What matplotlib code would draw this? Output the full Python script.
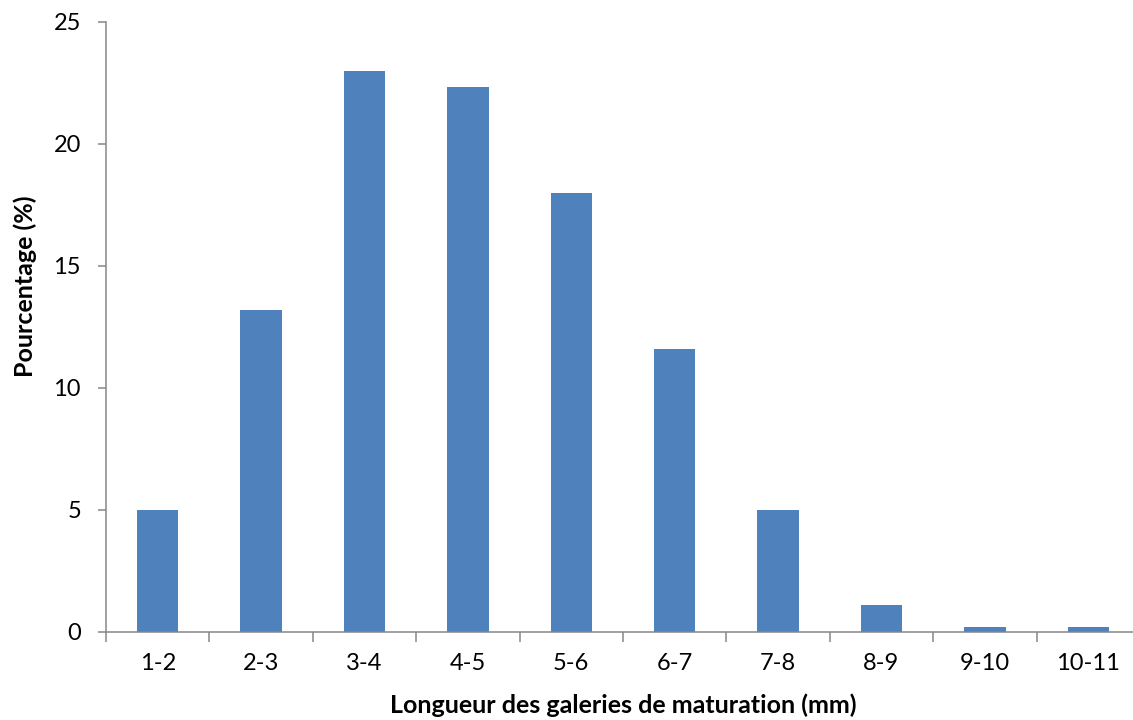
import matplotlib
matplotlib.use("Agg")
import matplotlib.pyplot as plt
import numpy as np

# Distribution of maturation gallery lengths
classes = ["1-2", "2-3", "3-4", "4-5", "5-6", "6-7", "7-8", "8-9", "9-10", "10-11"]
percentages = [5.0, 13.2, 23.0, 22.35, 18.0, 11.6, 5.0, 1.1, 0.2, 0.2]
y_ticks = [0, 5, 10, 15, 20, 25]

plt.rcParams["font.family"] = ["Lato", "DejaVu Sans"]

W, H = 1133, 720
fig = plt.figure(figsize=(W / 100, H / 100), dpi=100)
ax = fig.add_axes([106 / W, (H - 632) / H, (1140 - 106) / W, (632 - 22) / H])

bar_color = "#4F81BD"
axis_color = "#868686"

x = np.arange(len(classes))
ax.bar(x, percentages, width=0.4, color=bar_color, edgecolor="none", zorder=2)

ax.set_xlim(-0.5, len(classes) - 0.5)
ax.set_ylim(0, 25)

# tick marks sit on category boundaries, labels centred on the bars
ax.set_xticks(np.arange(len(classes) + 1) - 0.5)
ax.set_xticklabels([])
ax.set_xticks(x, minor=True)
ax.set_xticklabels(classes, minor=True, fontsize=17)
ax.tick_params(axis="x", which="major", direction="out", length=7,
               width=1.1, color=axis_color)
ax.tick_params(axis="x", which="minor", length=0, pad=15)

ax.set_yticks(y_ticks)
ax.set_yticklabels([str(v) for v in y_ticks], fontsize=17)
ax.tick_params(axis="y", direction="out", length=6, width=1.1,
               color=axis_color, pad=12)

for side in ("top", "right"):
    ax.spines[side].set_visible(False)
for side in ("left", "bottom"):
    ax.spines[side].set_color(axis_color)
    ax.spines[side].set_linewidth(1.1)

ax.set_xlabel("Longueur des galeries de maturation (mm)", fontsize=18,
              fontweight="bold", labelpad=14)
ax.set_ylabel("Pourcentage (%)", fontsize=18, fontweight="bold", labelpad=12)
ax.yaxis.label.set_y(0.567)

fig.savefig("out.png", dpi=100)
